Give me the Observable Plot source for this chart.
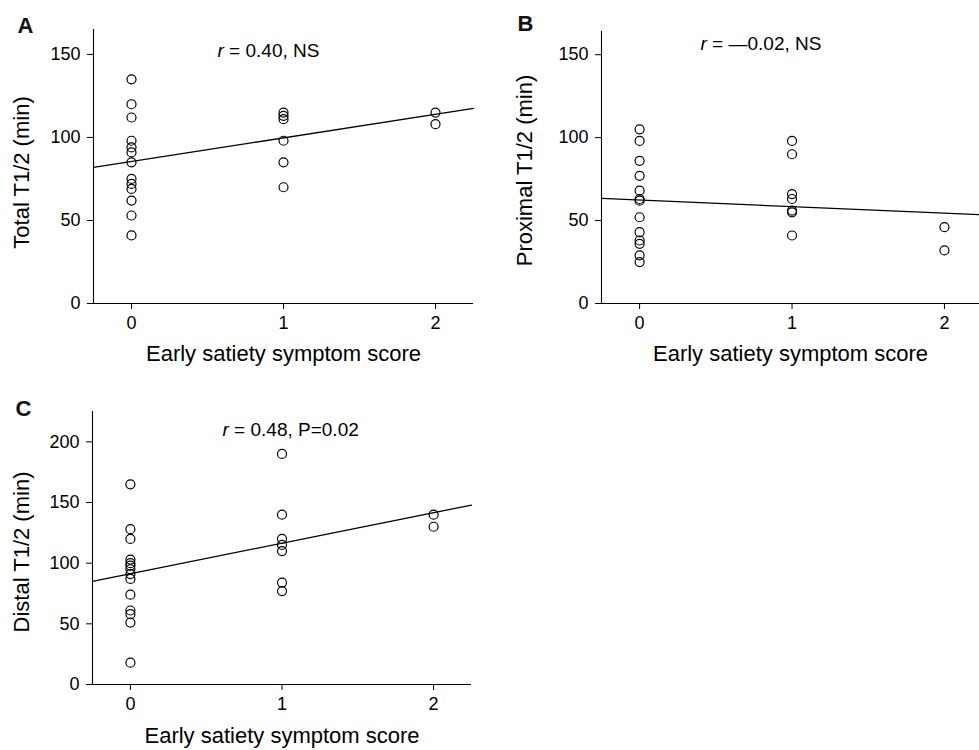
<!DOCTYPE html>
<html>
<head>
<meta charset="utf-8">
<script src="https://cdn.jsdelivr.net/npm/d3@7"></script>
<script src="https://cdn.jsdelivr.net/npm/@observablehq/plot@0.6"></script>
<style>
  body { margin: 0; background: #fff; }
  #wrap { position: relative; width: 979px; height: 750px; overflow: hidden; background: #fff; }
  #wrap > div { position: absolute; }
</style>
</head>
<body>
<div id="wrap"></div>
<script>
// ---------- data ----------
const scoreLevels = [0, 1, 2];

const totalAt0 = [135, 120, 112, 98, 94, 91, 85, 75, 72, 69, 62, 53, 41];
const totalAt1 = [115, 113, 111, 98, 85, 70];
const totalAt2 = [115, 108];

const proximalAt0 = [105, 98, 86, 77, 68, 63, 62, 52, 43, 38, 36, 29, 25];
const proximalAt1 = [98, 90, 66, 63, 56, 55, 41];
const proximalAt2 = [46, 32];

const distalAt0 = [165, 128, 120, 103, 100, 98, 95, 91, 87, 74, 61, 58, 51, 18];
const distalAt1 = [190, 140, 120, 115, 110, 84, 77];
const distalAt2 = [140, 130];

// regression lines as drawn (intercept at score 0, slope per score unit)
const fitIntercepts = [85.5, 62.4, 91.3];
const fitSlopes = [14.2, -3.96, 25.15];

const panelLetters = ["A", "B", "C"];
const yLabels = ["Total T1/2 (min)", "Proximal T1/2 (min)", "Distal T1/2 (min)"];
const annotations = ["r = 0.40, NS", "r = \u20140.02, NS", "r = 0.48, P=0.02"];
const xLabel = "Early satiety symptom score";
const yTicksAB = [0, 50, 100, 150];
const yTicksC = [0, 50, 100, 150, 200];

// ---------- build tables ----------
function toRows(groups) {
  return groups.flatMap((vals, i) => vals.map(v => ({score: scoreLevels[i], value: v})));
}
const datasets = [
  toRows([totalAt0, totalAt1, totalAt2]),
  toRows([proximalAt0, proximalAt1, proximalAt2]),
  toRows([distalAt0, distalAt1, distalAt2])
];

const FONT = '"Liberation Sans", Arial, Helvetica, sans-serif';

const layouts = [
  {left: 0, top: 0, width: 490, height: 375, mL: 93, mR: 17, mT: 29, mB: 72,
   xDomain: [-0.25, 2.25], yDomain: [0, 165], yTicks: yTicksAB,
   letter: {dx: -76, dy: 3}, ylab: {dx: -65, dy: 6}, ann: {dx: 124, dy: 27}, xlabDy: 57},
  {left: 490, top: 0, width: 489, height: 375, mL: 111, mR: 0, mT: 31, mB: 72,
   xDomain: [-0.25, 2.23], yDomain: [0, 164], yTicks: yTicksAB,
   letter: {dx: -84, dy: -1}, ylab: {dx: -70, dy: 3}, ann: {dx: 99, dy: 18}, xlabDy: 57},
  {left: 0, top: 375, width: 490, height: 375, mL: 92, mR: 19, mT: 36, mB: 66,
   xDomain: [-0.25, 2.25], yDomain: [0, 225], yTicks: yTicksC,
   letter: {dx: -77, dy: 4}, ylab: {dx: -64, dy: 4}, ann: {dx: 130, dy: 24}, xlabDy: 58}
];

function panel(i) {
  const L = layouts[i];
  const data = datasets[i];
  const [x0, x1] = L.xDomain;
  const fit = [x0, x1].map(s => ({score: s, value: fitIntercepts[i] + fitSlopes[i] * s}));
  const svg = Plot.plot({
    width: L.width,
    height: L.height,
    marginLeft: L.mL,
    marginRight: L.mR,
    marginTop: L.mT,
    marginBottom: L.mB,
    x: {domain: L.xDomain},
    y: {domain: L.yDomain},
    style: {fontFamily: FONT, color: "black", background: "white", overflow: "visible"},
    marks: [
      Plot.ruleY([0], {stroke: "black", strokeWidth: 1.1}),
      Plot.ruleX([x0], {stroke: "black", strokeWidth: 1.1}),
      Plot.axisX(scoreLevels, {tickSize: 6, tickPadding: 7, fontSize: 18, label: null, stroke: "black",
        tickFormat: d3.format("d")}),
      Plot.axisY(L.yTicks, {tickSize: 6, tickPadding: 7, fontSize: 18, label: null, stroke: "black",
        tickFormat: d3.format("d")}),
      Plot.line(fit, {x: "score", y: "value", stroke: "black", strokeWidth: 1.3}),
      Plot.dot(data, {x: "score", y: "value", r: 4.5, stroke: "black", fill: "none", strokeWidth: 1.2}),
      Plot.text([panelLetters[i]], {text: d => d, frameAnchor: "top-left", dx: L.letter.dx, dy: L.letter.dy,
        textAnchor: "start", lineAnchor: "bottom", fontSize: 22, fontWeight: "bold", fill: "#111"}),
      Plot.text([yLabels[i]], {text: d => d, frameAnchor: "left", rotate: -90, dx: L.ylab.dx, dy: L.ylab.dy,
        textAnchor: "middle", lineAnchor: "bottom", fontSize: 22, fill: "black"}),
      Plot.text([xLabel], {text: d => d, frameAnchor: "bottom", dy: L.xlabDy,
        textAnchor: "middle", lineAnchor: "bottom", fontSize: 22, fill: "black"}),
      Plot.text([annotations[i]], {text: d => d, frameAnchor: "top-left", dx: L.ann.dx, dy: L.ann.dy,
        textAnchor: "start", lineAnchor: "bottom", fontSize: 19, fill: "black"})
    ]
  });
  // italicize the leading "r" of the correlation annotation
  d3.select(svg).selectAll("text").filter(function () {
    return this.textContent === annotations[i];
  }).each(function () {
    const t = this.textContent;
    const sel = d3.select(this);
    sel.text(null);
    sel.append("tspan").attr("font-style", "italic").text(t.slice(0, 1));
    sel.append("tspan").text(t.slice(1));
  });
  const div = document.createElement("div");
  div.style.left = L.left + "px";
  div.style.top = L.top + "px";
  div.appendChild(svg);
  document.getElementById("wrap").appendChild(div);
}

[0, 1, 2].forEach(panel);
</script>
</body>
</html>
